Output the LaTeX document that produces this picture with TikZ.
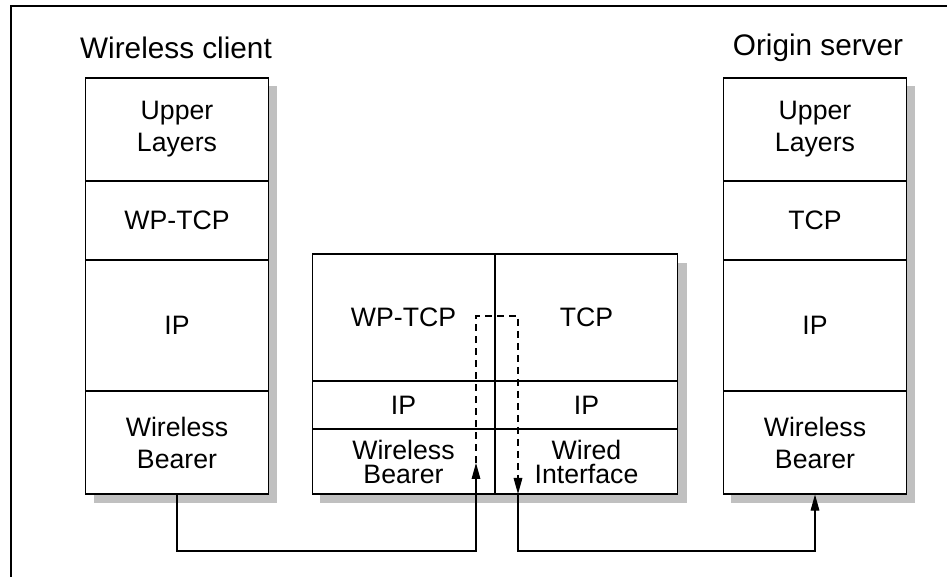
\documentclass[tikz,border=0pt]{standalone}
\usepackage{fontspec}
\setmainfont{Liberation Sans}
\usetikzlibrary{arrows.meta}
\definecolor{shadowgray}{HTML}{C0C0C0}
\begin{document}
\begin{tikzpicture}[x=0.75pt,y=-0.75pt,
  frameline/.style={line width=0.8pt},
  shadowbox/.style={fill=shadowgray},
  cell/.style={draw, line width=0.8pt, fill=white, inner sep=0pt, align=center,
    minimum width=137pt, font=\fontsize{20}{24}\selectfont},
  midcell/.style={cell, font=\fontsize{20}{18}\selectfont},
  title/.style={font=\fontsize{22.3}{26}\selectfont, inner sep=0pt},
  conn/.style={line width=0.8pt, -{Triangle[length=12pt,width=6.5pt]}},
  dashconn/.style={conn, dash pattern=on 5.5pt off 3.5pt}]
\useasboundingbox (0,0) rectangle (947,577);
% outer frame (top and left only)
\draw[frameline] (11,577) -- (11,6) -- (947,6);
% shadows
\fill[shadowbox] (94,86) rectangle (277,503);
\fill[shadowbox] (320,263) rectangle (687,503);
\fill[shadowbox] (731,86) rectangle (915,503);
% titles
\node[title] (tclient) at (176,48) {Wireless client};
\node[title] (tserver) at (818,48) {Origin server};
% wireless client stack
\node[cell, minimum height=77.25pt] (c1) at (177,129.5) {Upper\\Layers};
\node[cell, minimum height=59.25pt] (c2) at (177,220.5) {WP-TCP};
\node[cell, minimum height=98.25pt] (c3) at (177,325.5) {IP};
\node[cell, minimum height=77.25pt] (c4) at (177,442.5) {Wireless\\Bearer};
% origin server stack
\node[cell, minimum height=77.25pt] (s1) at (815,129.5) {Upper\\Layers};
\node[cell, minimum height=59.25pt] (s2) at (815,220.5) {TCP};
\node[cell, minimum height=98.25pt] (s3) at (815,325.5) {IP};
\node[cell, minimum height=77.25pt] (s4) at (815,442.5) {Wireless\\Bearer};
% middle (gateway) stack
\node[midcell, minimum height=95.25pt] (m1l) at (403.5,317.5) {WP-TCP};
\node[midcell, minimum height=36pt] (m2l) at (403.5,405) {IP};
\node[midcell, minimum height=48.75pt] (m3l) at (403.5,461.5) {Wireless\\Bearer};
\node[midcell, minimum height=95.25pt] (m1r) at (586.5,317.5) {TCP};
\node[midcell, minimum height=36pt] (m2r) at (586.5,405) {IP};
\node[midcell, minimum height=48.75pt] (m3r) at (586.5,461.5) {Wired\\Interface};
% connector coordinates
\coordinate (upTip) at (476,463);
\coordinate (aLow) at (476,551);
\coordinate (dCorner) at (518,316);
\coordinate (dnTip) at (518,494);
\coordinate (bLow) at (518,551);
% connectors
\draw[conn] (c4.south) |- (aLow) -- (upTip);
\draw[dashconn] (upTip) |- (dCorner) -- (dnTip);
\draw[conn] (dnTip) -- (bLow) -| (s4.south);
\end{tikzpicture}
\end{document}
